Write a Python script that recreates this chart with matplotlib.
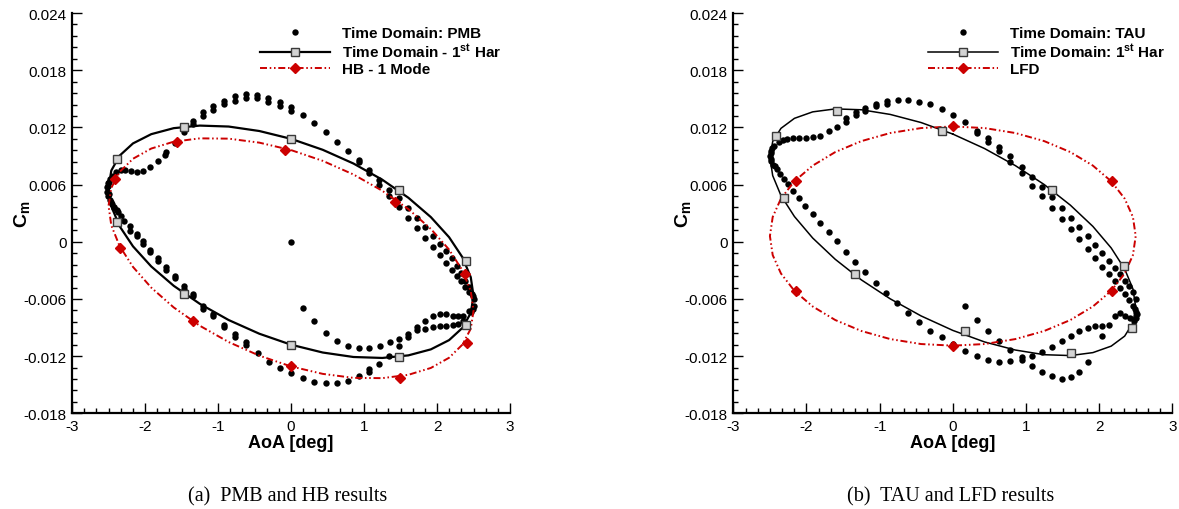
import matplotlib
matplotlib.use('Agg')
import matplotlib.pyplot as plt
from matplotlib.lines import Line2D
from matplotlib.ticker import FixedLocator, AutoMinorLocator

plt.rcParams['font.family'] = ['Liberation Sans', 'DejaVu Sans']
plt.rcParams['mathtext.fontset'] = 'custom'
plt.rcParams['mathtext.rm'] = 'Liberation Sans'
plt.rcParams['mathtext.bf'] = 'Liberation Sans:bold'

# ---- data (Cm values in units of 1e-3) ----
xticks = [-3, -2, -1, 0, 1, 2, 3]
xticklabels = ['-3', '-2', '-1', '0', '1', '2', '3']
yticks = [-0.018, -0.012, -0.006, 0, 0.006, 0.012, 0.018, 0.024]
yticklabels = ['-0.018', '-0.012', '-0.006', '0', '0.006', '0.012', '0.018', '0.024']

# AoA samples along the harmonic loops
har_aoa = [0, 0.434, 0.855, 1.25, 1.607, 1.915, 2.165, 2.349, 2.462, 2.5, 2.462, 2.349,
           2.165, 1.915, 1.607, 1.25, 0.855, 0.434, 0, -0.434, -0.855, -1.25, -1.607,
           -1.915, -2.165, -2.349, -2.462, -2.5, -2.462, -2.349, -2.165, -1.915, -1.607,
           -1.25, -0.855, -0.434, 0]

# (a) PMB / HB
pmb_har_cm = [10.8, 9.65, 8.21, 6.51, 4.62, 2.59, 0.48, -1.64, -3.72, -5.68, -7.47, -9.03,
              -10.32, -11.29, -11.92, -12.19, -12.09, -11.62, -10.8, -9.65, -8.21, -6.51,
              -4.62, -2.59, -0.48, 1.64, 3.72, 5.68, 7.47, 9.03, 10.32, 11.29, 11.92, 12.19,
              12.09, 11.62, 10.8]
hb_cm = [9.62, 8.49, 7.06, 5.35, 3.43, 1.35, -0.82, -3.02, -5.18, -7.23, -9.12, -10.78,
         -12.17, -13.24, -13.96, -14.31, -14.28, -13.86, -13.08, -11.95, -10.52, -8.81,
         -6.89, -4.81, -2.64, -0.44, 1.72, 3.77, 5.66, 7.32, 8.71, 9.78, 10.50, 10.85,
         10.82, 10.40, 9.62]
pmb_sq_aoa = [-2.38, -1.466, 0.004, 1.483, 2.397, 2.397, 1.483, 0.0, -1.466, -2.38]
pmb_sq_cm = [8.67, 12.03, 10.77, 5.42, -2.06, -8.74, -12.06, -10.80, -5.45, 2.03]
hb_dm_aoa = [-1.558, -0.078, -2.416, -2.343, -1.348, 0.004, 1.429, 2.378, 2.406, 1.493]
hb_dm_cm = [10.49, 9.62, 6.54, -0.69, -8.35, -13.07, 4.20, -3.42, -10.63, -14.30]

pmb_aoa = [-1.338, -1.338, -1.201, -1.201, -1.064, -1.064, -0.918, -0.918, -0.767, -0.767,
           -0.616, -0.616, -0.466, -0.466, -0.311, -0.311, -0.151, -0.151, 0.004, 0.004,
           0.168, 0.319, 0.479, 0.63, 0.785, 0.932, 0.932, 1.073, 1.073, 1.21, 1.21,
           1.347, 1.347, 1.484, 1.484, 1.607, 1.607, 1.726, 1.726, 1.83, 1.83, 1.94, 1.94,
           2.041, 2.041, 2.123, 2.123, 2.2, 2.2, 2.269, 2.269, 2.333, 2.333, 2.388, 2.388,
           2.443, 2.443, 2.479, 2.488, 2.502, 2.511, 2.497, 2.466,
           0.0, 0.168, 0.32, 0.48, 0.63, 0.785, 0.93, 1.07, 1.22, 1.35, 1.48, 1.607,
           1.726, 1.836, 1.94, 2.041, 2.123, 2.214, 2.282, 2.351, 2.44,
           0.168, 0.319, 0.479, 0.63, 0.785, 0.93, 1.073, 1.073, 1.21, 1.347, 1.484, 1.607,
           1.726, 1.836, 1.94, 2.041, 2.123, 2.214, 2.282, 2.351,
           -1.466, -1.595, -1.712, -1.72, -1.822, -1.927, -2.033, -2.115, -2.192, -2.27,
           -2.329, -2.397, -2.444, -2.479, -2.503, -2.516, -2.516, -2.503, -2.479, -2.452,
           -2.421, -2.375, -2.45, -2.49, -2.51, -2.50, -2.47, -2.43, -2.39,
           -2.329, -2.284, -2.206, -2.206, -2.115, -2.115, -2.033, -2.033, -1.927, -1.927,
           -1.822, -1.822, -1.712, -1.712, -1.595, -1.595, -1.466, -1.466, -1.338, -1.338,
           -1.201, -1.201, -1.064, -1.064, -0.918, -0.918, -0.767, -0.767, -0.616, -0.616,
           -0.457, -0.307, -0.151, 0.004]
pmb_cm = [12.69, 12.40, 13.57, 13.22, 14.27, 13.85, 14.79, 14.44, 15.25, 14.79,
          15.49, 15.07, 15.42, 15.07, 15.04, 14.69, 14.62, 14.27, 14.10, 13.74,
          13.29, 12.42, 11.48, 10.46, 9.48, 8.57, 8.33, 7.55, 7.18, 6.50, 5.95,
          5.45, 4.83, 4.55, 3.61, 3.50, 2.49, 2.45, 1.41, 1.51, 0.39, 0.63, -0.52,
          -0.21, -1.40, -0.94, -2.20, -1.71, -2.94, -2.52, -3.57, -3.31, -4.12, -4.09, -4.78,
          -4.78, -5.31, -5.49, -5.66, -6.01, -6.71, -7.06, -7.41,
          0.0, -6.9, -8.3, -9.6, -10.4, -10.9, -11.1, -11.1, -10.9, -10.56, -10.2, -9.68,
          -8.98, -8.29, -7.83, -7.58, -7.58, -7.76, -7.83, -7.76, -7.3,
          -14.33, -14.69, -14.86, -14.82, -14.65, -14.05, -13.64, -13.35, -12.83, -11.96,
          -10.91, -10.03, -9.23, -9.16, -8.98, -8.88, -8.81, -8.74, -8.67, -8.29,
          11.48, 10.40, 9.44, 9.10, 8.50, 7.80, 7.38, 7.28, 7.38, 7.55,
          7.55, 7.28, 6.92, 6.58, 6.16, 5.71, 5.25, 4.83, 4.41, 3.96,
          3.50, 3.08, 6.70, 6.30, 5.90, 5.00, 4.20, 3.70, 3.30,
          2.73, 2.20, 1.62, 1.15, 0.81, 0.57, 0.04, -0.24, -0.84, -1.11,
          -1.71, -1.99, -2.62, -2.94, -3.57, -3.84, -4.68, -4.95, -5.73, -5.45,
          -6.71, -7.06, -7.58, -7.83, -8.71, -8.95, -9.68, -9.95, -10.8, -10.55,
          -11.68, -12.59, -13.28, -13.77]

# (b) TAU / LFD
tau_har_cm = [11.30, 9.78, 7.99, 6.00, 3.84, 1.61, -0.65, -2.85, -4.94, -6.85, -8.52, -9.90,
              -10.95, -11.63, -11.94, -11.85, -11.36, -10.51, -9.30, -7.78, -5.99, -4.00,
              -1.84, 0.39, 2.65, 4.85, 6.94, 8.85, 10.52, 11.90, 12.95, 13.63, 13.94, 13.85,
              13.36, 12.51, 11.30]
lfd_cm = [12.10, 11.93, 11.41, 10.56, 9.41, 7.99, 6.35, 4.53, 2.60, 0.60, -1.40, -3.33,
          -5.15, -6.79, -8.21, -9.36, -10.21, -10.73, -10.90, -10.73, -10.21, -9.36,
          -8.21, -6.79, -5.15, -3.33, -1.40, 0.60, 2.60, 4.53, 6.35, 7.99, 9.41, 10.56,
          11.41, 11.93, 12.10]
tau_sq_aoa = [-2.414, -1.585, -0.142, 1.357, 2.344, 2.445, 1.611, 0.172, -1.331, -2.314]
tau_sq_cm = [11.06, 13.74, 11.58, 5.39, -2.52, -9.02, -11.68, -9.40, -3.36, 4.55]
lfd_dm_aoa = [-2.15, 0.008, 2.18, 2.18, 0.008, -2.15]
lfd_dm_cm = [6.40, 12.10, 6.40, -5.14, -10.91, -5.14]

tau_aoa = [-1.458, -1.458, -1.33, -1.33, -1.194, -1.194, -1.052, -1.052, -0.902, -0.902,
           -0.751, -0.607, -0.456, -0.31, -0.142, 0.008, 0.172, 0.328, 0.328, 0.486, 0.486,
           0.637, 0.637, 0.783, 0.783, 0.943, 0.943, 1.087, 1.087, 1.224, 1.224, 1.361,
           1.361, 1.489, 1.489, 1.616, 1.616, 1.73, 1.73, 1.844, 1.844, 1.944, 1.944,
           2.044, 2.044, 2.131, 2.131, 2.213, 2.213, 2.286, 2.286, 2.35, 2.35, 2.408, 2.408,
           2.463, 2.463, 2.508, 2.508, 2.49, 2.52, 2.50, 2.47,
           0.172, 0.328, 0.486, 0.637, 0.783, 0.943, 1.087, 1.224, 1.361, 1.489, 1.616,
           1.73, 1.844, 1.944, 2.044, 2.131, 2.213, 2.286, 2.354, 2.422,
           -0.142, 0.008, 0.172, 0.328, 0.486, 0.637, 0.783, 0.943, 1.087, 1.224, 1.361,
           1.489, 1.616, 1.73, 1.844, 2.044,
           -2.405, -2.359, -2.314, -2.246, -2.178, -2.096, -2.014, -1.913, -1.813, -1.699,
           -1.585, -1.458, -1.331, -1.194, -1.052, -0.911, -0.765, -0.607, -0.456, -0.31,
           -1.585, -1.699, -1.813, -1.913, -2.004, -2.096, -2.178, -2.26, -2.322, -2.382,
           -2.45, -2.486, -2.496, -2.486, -2.459, -2.47, -2.49, -2.48, -2.43]
tau_cm = [12.94, 12.59, 13.60, 13.29, 13.99, 13.70, 14.44, 14.20, 14.73, 14.50,
          14.90, 14.83, 14.69, 14.44, 13.92, 13.29, 12.59, 11.64, 11.37, 10.85, 10.49,
          9.90, 9.55, 8.96, 8.33, 7.80, 7.21, 6.82, 5.87, 5.71, 4.76, 4.66,
          3.50, 3.50, 2.38, 2.45, 1.33, 1.51, 0.28, 0.57, -0.77, -0.31, -1.71,
          -1.19, -2.62, -1.99, -3.39, -2.76, -4.09, -3.39, -4.89, -4.09, -5.49, -4.68, -6.08,
          -5.31, -6.71, -6.01, -7.41, -7.1, -7.6, -8.0, -8.3,
          -6.78, -8.18, -9.34, -10.45, -11.33, -12.10, -11.96, -11.54, -11.01, -10.45, -9.86,
          -9.40, -9.08, -8.87, -8.80, -8.76, -7.83, -7.51, -7.76, -8.04,
          -10.03, -10.70, -11.50, -11.96, -12.41, -12.59, -12.55, -12.40, -13.00, -13.64, -14.06,
          -14.40, -14.16, -13.70, -12.59, -9.86,
          7.63, 7.10, 6.58, 6.05, 5.35, 4.55, 3.71, 2.91, 1.96, 0.99,
          0.04, -1.05, -2.10, -3.21, -4.33, -5.41, -6.46, -7.48, -8.45, -9.40,
          12.06, 11.64, 11.12, 10.95, 10.88, 10.88, 10.88, 10.77, 10.70, 10.43,
          10.07, 9.55, 9.02, 8.50, 8.05, 9.80, 9.30, 8.70, 7.90]

RED = '#cc0000'
DASH = (0, (3.6, 1.4, 0.8, 1.4, 0.8, 1.4))
DOT_MS = 4.6


def k(vals):
    return [v * 1e-3 for v in vals]


def panel(ax, dots_x, dots_y, har_y, sq_x, sq_y, red_y, dm_x, dm_y, lw_black, labels, leg_x):
    ax.plot(dots_x, k(dots_y), 'o', color='black', ms=DOT_MS, mew=0, zorder=2)
    ax.plot(har_aoa, k(har_y), '-', color='black', lw=lw_black, zorder=3)
    ax.plot(har_aoa, k(red_y), color=RED, lw=1.4, ls=DASH, zorder=3)
    ax.plot(sq_x, k(sq_y), 's', ms=6.4, mfc='#d3d3d3', mec='#3a3a3a', mew=1.0, zorder=4)
    ax.plot(dm_x, k(dm_y), 'D', ms=5.2, mfc=RED, mec=RED, zorder=4)

    ax.set_xlim(-3, 3)
    ax.set_ylim(-0.018, 0.024)
    ax.xaxis.set_major_locator(FixedLocator(xticks))
    ax.set_xticklabels(xticklabels)
    ax.yaxis.set_major_locator(FixedLocator(yticks))
    ax.set_yticklabels(yticklabels)
    ax.xaxis.set_minor_locator(AutoMinorLocator(6))
    ax.yaxis.set_minor_locator(AutoMinorLocator(5))
    ax.tick_params(which='both', direction='in', labelsize=11, width=1.0)
    ax.tick_params(which='major', length=7, pad=4)
    ax.tick_params(which='minor', length=3.6)
    ax.spines['top'].set_visible(False)
    ax.spines['right'].set_visible(False)
    ax.spines['left'].set_linewidth(1.6)
    ax.spines['bottom'].set_linewidth(1.6)
    ax.set_xlabel('AoA [deg]', fontsize=13, fontweight='bold', labelpad=1)
    ax.set_ylabel(r'C$_\mathbf{m}$', fontsize=14, fontweight='bold')
    ax.yaxis.set_label_coords(-0.09, 0.5)

    handles = [
        Line2D([], [], ls='none', marker='o', color='black', ms=DOT_MS, mew=0),
        Line2D([], [], color='black', lw=lw_black, marker='s', ms=6.4, mfc='#d3d3d3',
               mec='#3a3a3a', mew=1.0),
        Line2D([], [], color=RED, lw=1.4, ls=DASH, marker='D', ms=5.2, mfc=RED, mec=RED),
    ]
    ax.legend(handles, labels, loc='upper left', bbox_to_anchor=(leg_x, 0.978),
              frameon=False, prop={'weight': 'bold', 'size': 11},
              handlelength=4.6, handletextpad=0.8, labelspacing=0.12,
              borderaxespad=0.0, borderpad=0.3, numpoints=1)


fig = plt.figure(figsize=(11.79, 5.10), dpi=100)
ax1 = fig.add_axes([0.0611, 0.1876, 0.3715, 0.7849])
ax2 = fig.add_axes([0.6220, 0.1876, 0.3723, 0.7849])

panel(ax1, pmb_aoa, pmb_cm, pmb_har_cm, pmb_sq_aoa, pmb_sq_cm, hb_cm, hb_dm_aoa, hb_dm_cm,
      1.6, ['Time Domain: PMB', r'Time Domain - 1$^{\mathbf{st}}$ Har', 'HB - 1 Mode'], 0.418)
panel(ax2, tau_aoa, tau_cm, tau_har_cm, tau_sq_aoa, tau_sq_cm, lfd_cm, lfd_dm_aoa, lfd_dm_cm,
      1.1, ['Time Domain: TAU', r'Time Domain: 1$^{\mathbf{st}}$ Har', 'LFD'], 0.433)

fig.text(0.2439, 0.026, '(a)  PMB and HB results', ha='center', va='center',
         family='Liberation Serif', fontsize=14.5)
fig.text(0.8066, 0.026, '(b)  TAU and LFD results', ha='center', va='center',
         family='Liberation Serif', fontsize=14.5)

fig.savefig('out.png', dpi=100)
